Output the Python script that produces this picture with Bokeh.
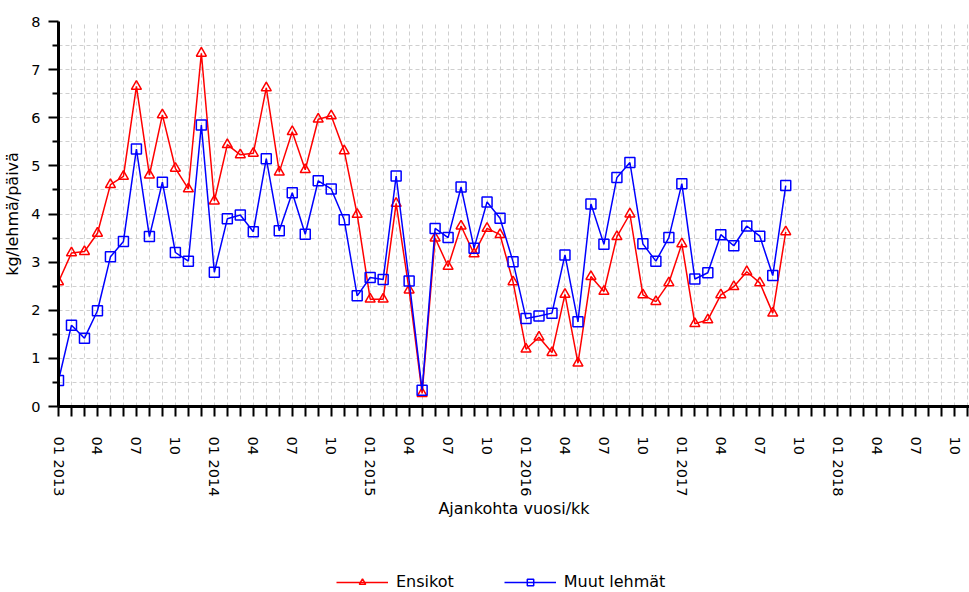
from bokeh.plotting import figure
from bokeh.layouts import column
from bokeh.models import FixedTicker, Legend, LegendItem, Range1d, ColumnDataSource
from bokeh.embed import file_html
from bokeh.resources import INLINE

# Monthly values from 01/2013 (index 0) to 09/2017 (index 56), kg/lehmä/päivä
ensikot = [2.59, 3.19, 3.22, 3.60, 4.61, 4.78, 6.65, 4.81, 6.06, 4.95, 4.52, 7.34,
           4.27, 5.44, 5.23, 5.26, 6.62, 4.87, 5.71, 4.92, 5.97, 6.04, 5.31, 3.99,
           2.23, 2.23, 4.22, 2.42, 0.27, 3.50, 2.91, 3.75, 3.17, 3.70, 3.57, 2.59,
           1.19, 1.44, 1.12, 2.33, 0.90, 2.70, 2.39, 3.53, 4.00, 2.32, 2.18, 2.57,
           3.38, 1.72, 1.80, 2.32, 2.49, 2.80, 2.57, 1.94, 3.63]
muut_lehmat = [0.54, 1.69, 1.42, 1.99, 3.11, 3.43, 5.35, 3.53, 4.66, 3.20, 3.02, 5.85,
               2.79, 3.90, 3.98, 3.63, 5.15, 3.65, 4.44, 3.58, 4.69, 4.52, 3.88, 2.30,
               2.68, 2.64, 4.79, 2.61, 0.34, 3.70, 3.51, 4.56, 3.29, 4.25, 3.91, 3.01,
               1.83, 1.88, 1.94, 3.15, 1.76, 4.21, 3.37, 4.76, 5.07, 3.38, 3.02, 3.51,
               4.63, 2.65, 2.78, 3.57, 3.34, 3.75, 3.54, 2.72, 4.59]
months = list(range(len(ensikot)))

tick_labels = ["01 2013", "04", "07", "10", "01 2014", "04", "07", "10",
               "01 2015", "04", "07", "10", "01 2016", "04", "07", "10",
               "01 2017", "04", "07", "10", "01 2018", "04", "07", "10"]
label_months = [3 * i for i in range(len(tick_labels))]
all_months = list(range(71))
y_major = list(range(9))
y_minor = [i + 0.5 for i in range(8)]

series_names = ["Ensikot", "Muut lehmät"]

src = ColumnDataSource(dict(m=months, ens=ensikot, muut=muut_lehmat))

p = figure(width=969, height=560, x_range=Range1d(0, 70.15), y_range=Range1d(0, 8),
           output_backend="svg", toolbar_location=None,
           min_border_left=58, min_border_right=0, min_border_top=21, min_border_bottom=154)
p.outline_line_color = None
p.background_fill_color = "white"
p.border_fill_color = "white"

FONT = "DejaVu Sans"
GRID = "#cfcfcf"
RED = "#ff0000"
BLUE = "#0000ff"

# X axis
p.xaxis.ticker = FixedTicker(ticks=all_months)
overrides = {m: "" for m in all_months}
for m, lab in zip(label_months, tick_labels):
    overrides[m] = lab
p.xaxis.major_label_overrides = overrides
p.xaxis.major_label_orientation = -1.5707963267948966
p.xaxis.axis_label = "Ajankohta vuosi/kk"

# Y axis
p.yaxis.ticker = FixedTicker(ticks=y_major, minor_ticks=y_minor)
p.yaxis.axis_label = "kg/lehmä/päivä"

for ax in (p.xaxis[0], p.yaxis[0]):
    ax.axis_line_width = 3
    ax.axis_line_color = "black"
    ax.major_tick_line_width = 2
    ax.major_tick_line_color = "black"
    ax.major_tick_out = 10
    ax.major_tick_in = 0
    ax.major_label_text_font = FONT
    ax.major_label_text_font_size = "14.5px"
    ax.major_label_text_color = "black"
    ax.axis_label_text_font = FONT
    ax.axis_label_text_font_size = "16px"
    ax.axis_label_text_font_style = "normal"
    ax.axis_label_text_color = "black"

p.xaxis.minor_tick_line_color = None
p.xaxis.major_label_standoff = 20
p.xaxis.axis_label_standoff = 0
p.yaxis.minor_tick_line_width = 2
p.yaxis.minor_tick_line_color = "black"
p.yaxis.minor_tick_out = 6
p.yaxis.minor_tick_in = 0
p.yaxis.major_label_standoff = 8
p.yaxis.axis_label_standoff = 6

# Grid
p.xgrid.grid_line_color = GRID
p.xgrid.grid_line_dash = "4 3"
p.xgrid.grid_line_width = 1
p.ygrid.grid_line_color = GRID
p.ygrid.grid_line_dash = "4 3"
p.ygrid.grid_line_width = 1
p.ygrid.minor_grid_line_color = GRID
p.ygrid.minor_grid_line_dash = "4 3"
p.ygrid.minor_grid_line_width = 1

# Series
p.line("m", "ens", source=src, line_color=RED, line_width=1.5)
p.scatter("m", "ens", source=src, marker="triangle", size=10,
          line_color=RED, fill_color=None, line_width=1.5)
p.line("m", "muut", source=src, line_color=BLUE, line_width=1.5)
p.scatter("m", "muut", source=src, marker="square", size=10,
          line_color=BLUE, fill_color=None, line_width=1.5)

# Legend strip below the chart (its renderers lie outside its own view)
lg = figure(width=969, height=32, x_range=Range1d(-20, -19), y_range=Range1d(-20, -19),
            output_backend="svg", toolbar_location=None,
            x_axis_type=None, y_axis_type=None, min_border=0)
lg.outline_line_color = None
lg.xgrid.visible = False
lg.ygrid.visible = False
el1 = lg.line("m", "ens", source=src, line_color=RED, line_width=1.5)
es1 = lg.scatter("m", "ens", source=src, marker="triangle", size=11,
                 line_color=RED, fill_color=None, line_width=1.5)
el2 = lg.line("m", "muut", source=src, line_color=BLUE, line_width=1.5)
es2 = lg.scatter("m", "muut", source=src, marker="square", size=11,
                 line_color=BLUE, fill_color=None, line_width=1.5)
legend = Legend(items=[LegendItem(label=series_names[0], renderers=[el1, es1]),
                       LegendItem(label=series_names[1], renderers=[el2, es2])],
                orientation="horizontal", location=(278, 1),
                border_line_color=None, background_fill_alpha=0,
                padding=0, margin=0, spacing=50, glyph_width=52, glyph_height=16,
                label_height=16, label_standoff=8,
                label_text_font=FONT, label_text_font_size="16px", label_text_color="black")
lg.add_layout(legend)

layout = column(p, lg, spacing=0)
open("out.html", "w").write(file_html(layout, INLINE))
